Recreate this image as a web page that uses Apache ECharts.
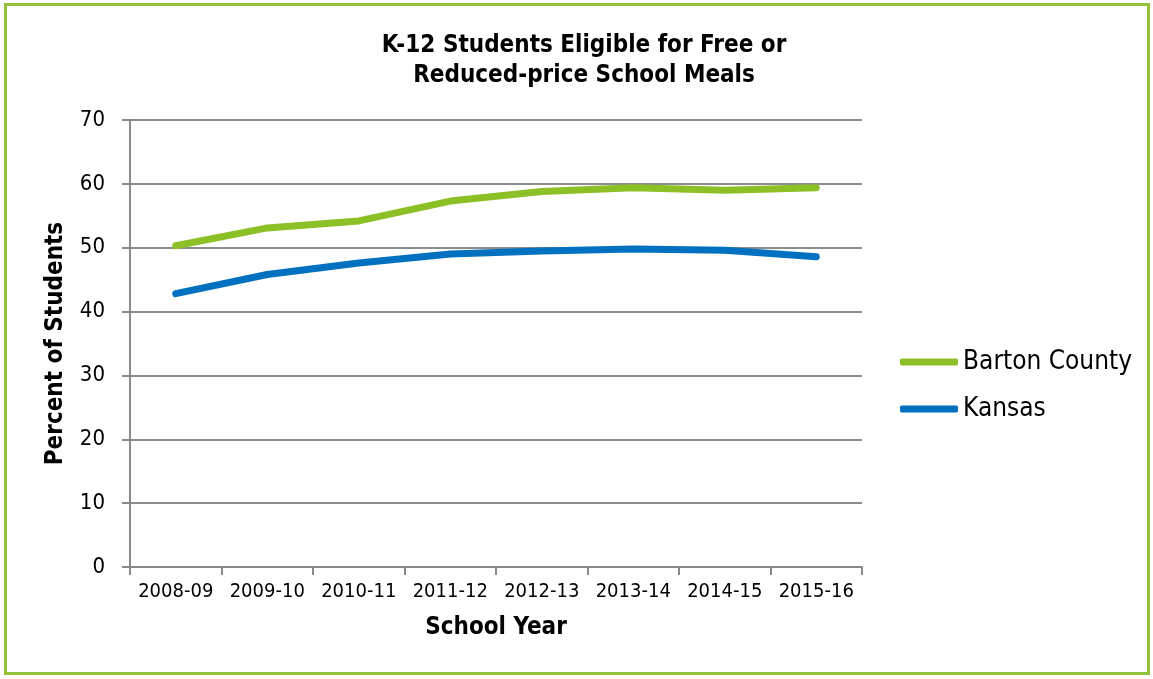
<!DOCTYPE html>
<html>
<head>
<meta charset="utf-8">
<script src="https://cdn.jsdelivr.net/npm/echarts@6/dist/echarts.min.js"></script>
<style>
html,body{margin:0;padding:0;background:#fff;}
#c{width:1153px;height:679px;}
</style>
</head>
<body>
<div id="c"></div>
<script>
var categories = ['2008-09','2009-10','2010-11','2011-12','2012-13','2013-14','2014-15','2015-16'];
var bartonCounty = [50.3, 53.1, 54.2, 57.3, 58.8, 59.4, 59.0, 59.4];
var kansas = [42.8, 45.8, 47.6, 49.0, 49.5, 49.8, 49.6, 48.6];
var yTicks = {min: 0, max: 70, interval: 10};

var FONT = 'DejaVu Sans Condensed';
var chart = echarts.init(document.getElementById('c'));
chart.setOption({
  backgroundColor: '#ffffff',
  animation: false,
  graphic: [{
    type: 'rect',
    shape: {x: 5.5, y: 4.5, width: 1143, height: 669},
    style: {fill: 'none', stroke: '#92c13a', lineWidth: 3}
  }],
  title: {
    text: 'K-12 Students Eligible for Free or\nReduced-price School Meals',
    left: 579, top: 26, textAlign: 'center',
    textStyle: {fontFamily: FONT, fontWeight: 'bold', fontSize: 24, color: '#000', lineHeight: 30}
  },
  legend: {
    orient: 'vertical', left: 895, top: 344, padding: 5,
    itemWidth: 58, itemHeight: 7, itemGap: 21,
    textStyle: {fontFamily: FONT, fontSize: 26, color: '#000'},
    data: [
      {name: 'Barton County', icon: 'roundRect'},
      {name: 'Kansas', icon: 'roundRect'}
    ]
  },
  grid: {left: 130, right: 291, top: 120, bottom: 112, containLabel: false},
  xAxis: {
    type: 'category', data: categories, boundaryGap: true,
    name: 'School Year', nameLocation: 'middle', nameGap: 49,
    nameTextStyle: {fontFamily: FONT, fontWeight: 'bold', fontSize: 24, color: '#000'},
    axisLine: {show: true, lineStyle: {color: '#898989', width: 2}},
    axisTick: {show: true, length: 8, alignWithLabel: false, lineStyle: {color: '#898989', width: 2}},
    axisLabel: {fontFamily: FONT, fontSize: 20, color: '#000', margin: 15, interval: 0},
    splitLine: {show: false}
  },
  yAxis: {
    type: 'value', min: yTicks.min, max: yTicks.max, interval: yTicks.interval,
    name: 'Percent of Students', nameLocation: 'middle', nameGap: 62,
    nameTextStyle: {fontFamily: FONT, fontWeight: 'bold', fontSize: 24, color: '#000'},
    axisLine: {show: true, lineStyle: {color: '#898989', width: 2}},
    axisTick: {show: true, length: 8, inside: false, lineStyle: {color: '#898989', width: 2}},
    axisLabel: {fontFamily: FONT, fontSize: 22, color: '#000', margin: 25},
    splitLine: {show: true, lineStyle: {color: '#8c8c8c', width: 2}}
  },
  series: [
    {
      name: 'Barton County', type: 'line', data: bartonCounty,
      showSymbol: false, symbol: 'none',
      itemStyle: {color: '#8dc026'},
      lineStyle: {color: '#8dc026', width: 7, cap: 'round', join: 'round'}
    },
    {
      name: 'Kansas', type: 'line', data: kansas,
      showSymbol: false, symbol: 'none',
      itemStyle: {color: '#0070c0'},
      lineStyle: {color: '#0070c0', width: 7, cap: 'round', join: 'round'}
    }
  ]
});
</script>
</body>
</html>
